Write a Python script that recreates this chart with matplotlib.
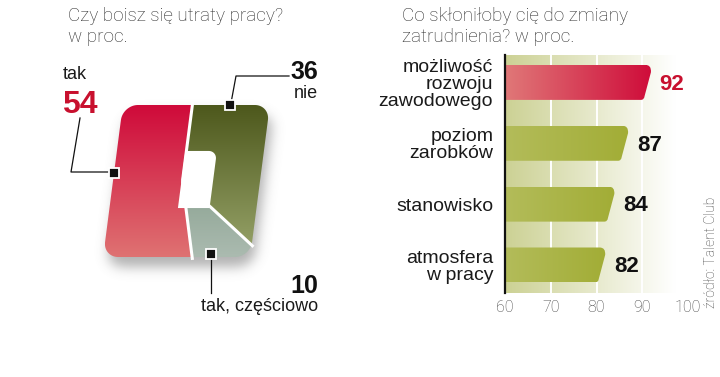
import numpy as np
import matplotlib
matplotlib.use("Agg")
import matplotlib.pyplot as plt
from matplotlib.patches import Polygon, PathPatch
from matplotlib.path import Path
from matplotlib.colors import to_rgb

# ---------------- data ----------------
pie_labels = ["tak", "tak, częściowo", "nie"]
pie_values = [54, 10, 36]
bar_categories = ["możliwość\nrozwoju\nzawodowego", "poziom\nzarobków", "stanowisko", "atmosfera\nw pracy"]
bar_values = [92, 87, 84, 82]
x_ticks = [60, 70, 80, 90, 100]
title_left = "Czy boisz się utraty pracy?\nw proc."
title_right = "Co skłoniłoby cię do zmiany\nzatrudnienia? w proc."
source = "źródło: Talent Club"

W, H = 720, 377
fig = plt.figure(figsize=(W / 100, H / 100), dpi=100)

LIGHT = dict(family=["Roboto", "DejaVu Sans"], weight="light")
REG = dict(family=["Liberation Sans", "DejaVu Sans"])
NUMB = dict(family=["Liberation Sans", "DejaVu Sans"], weight="bold")

def fx(x):
    return x / W

def fy(y):
    return 1 - y / H

# ---------------- titles / source ----------------
fig.text(fx(68), fy(42), title_left, ha="left", va="baseline", fontsize=13.6,
         color="#2a2a2a", linespacing=1.2, **LIGHT)
fig.text(fx(402), fy(42), title_right, ha="left", va="baseline", fontsize=13.6,
         color="#2a2a2a", linespacing=1.2, **LIGHT)
fig.text(fx(711), fy(252), source, rotation=90, ha="center", va="center",
         fontsize=10, color="#444444", **LIGHT)

# ---------------- left: square "pie" ----------------
ax0 = fig.add_axes([0, 0, 0.5, 1])
ax0.set_xlim(0, 360)
ax0.set_ylim(H, 0)
ax0.axis("off")

CX, CY = 186.5, 181.0      # shape centre (px)
A, B, RC = 73.5, 76.0, 15.0  # half width, half height, corner radius
S = 0.13                   # skew
U0 = -4.0                  # pie centre offset

def inside(u, v):
    dx = np.maximum(np.abs(u) - (A - RC), 0)
    dy = np.maximum(np.abs(v) - (B - RC), 0)
    return (np.abs(u) <= A) & (np.abs(v) <= B) & (dx ** 2 + dy ** 2 <= RC ** 2)

def to_xy(u, v):
    return CX + u + S * v, CY - v

def boundary_r(theta):
    lo = np.zeros_like(theta)
    hi = np.full_like(theta, 300.0)
    for _ in range(40):
        mid = (lo + hi) / 2
        ok = inside(U0 + mid * np.cos(theta), mid * np.sin(theta))
        lo = np.where(ok, mid, lo)
        hi = np.where(ok, hi, mid)
    return lo

# shadow
gx, gy = np.meshgrid(np.arange(60, 330), np.arange(60, 330))
sdx, sdy = 3.0, 9.0
vv = CY - (gy - sdy)
uu = (gx - sdx) - CX - S * vv
mask = inside(uu, vv).astype(float)
sig = 6.0
k = np.exp(-0.5 * (np.arange(-20, 21) / sig) ** 2)
k /= k.sum()
mask = np.apply_along_axis(lambda r: np.convolve(r, k, mode="same"), 0, mask)
mask = np.apply_along_axis(lambda r: np.convolve(r, k, mode="same"), 1, mask)
shadow = np.zeros(mask.shape + (4,))
shadow[..., :3] = 0.5
shadow[..., 3] = mask * 0.6
ax0.imshow(shadow, extent=(60, 330, 330, 60), origin="upper", zorder=1, interpolation="bilinear")

slice_colors = [("#cf0a3a", "#df7272"), ("#8ba291", "#abbbb0"), ("#4d581c", "#939f65")]
total = float(sum(pie_values))
bounds = 90 + 360 * np.concatenate([[0], np.cumsum(pie_values)]) / total

for i, val in enumerate(pie_values):
    th = np.radians(np.linspace(bounds[i], bounds[i + 1], 300))
    r = boundary_r(th)
    u = np.concatenate([[U0], U0 + r * np.cos(th)])
    v = np.concatenate([[0], r * np.sin(th)])
    x, y = to_xy(u, v)
    patch = Polygon(np.column_stack([x, y]), closed=True, facecolor="none",
                    edgecolor="none", transform=ax0.transData)
    ax0.add_patch(patch)
    c1, c2 = np.array(to_rgb(slice_colors[i][0])), np.array(to_rgb(slice_colors[i][1]))
    y0, y1 = y.min(), y.max()
    t = np.linspace(0, 1, 200)[:, None, None]
    grad = c1 * (1 - t) + c2 * t
    im = ax0.imshow(grad, extent=(x.min(), x.max(), y1, y0), origin="upper",
                    aspect="auto", zorder=2, interpolation="bilinear")
    im.set_clip_path(patch)

# separators
for b in bounds[:-1]:
    th = np.radians(np.array([b]))
    r = boundary_r(th)[0] + 3
    x, y = to_xy(np.array([U0, U0 + r * np.cos(th[0])]), np.array([0, r * np.sin(th[0])]))
    ax0.plot(x, y, color="white", lw=2.2, zorder=3, solid_capstyle="butt")

# hole
hr = 7.0
ang = np.linspace(0, np.pi / 2, 12)
hu = [U0, 25.5] + list(25.5 - hr + hr * np.cos(ang)) + [U0]
hv = [-26, -26] + list(29 - hr + hr * np.sin(ang)) + [29]
hx, hy = to_xy(np.array(hu), np.array(hv))
ax0.add_patch(Polygon(np.column_stack([hx, hy]), closed=True, facecolor="white",
                      edgecolor="white", lw=1.5, zorder=4))

# leaders + markers
lc = "#111111"
ax0.plot([80, 71, 113], [118, 172, 172], color=lc, lw=0.9, zorder=5)
ax0.plot([289, 236, 231], [76, 76, 103], color=lc, lw=0.9, zorder=5)
ax0.plot([211, 211], [254, 293], color=lc, lw=0.9, zorder=5)
mx, my = to_xy(np.array([-A, 34.0, 34.0]), np.array([8.0, B, -B + 3]))
ax0.plot(mx, my, "s", ms=6.5, mfc="#111111", mec="white", mew=1.3, zorder=6, ls="none")

# labels
ax0.text(63, 79, pie_labels[0], ha="left", va="baseline", fontsize=13, color="#1a1a1a", **REG)
ax0.text(62, 113, str(pie_values[0]), ha="left", va="baseline", fontsize=23, color="#c8102e", **NUMB)
ax0.text(318, 79, str(pie_values[2]), ha="right", va="baseline", fontsize=18, color="#111111", **NUMB)
ax0.text(318, 98, pie_labels[2], ha="right", va="baseline", fontsize=13, color="#1a1a1a", **REG)
ax0.text(318, 293, str(pie_values[1]), ha="right", va="baseline", fontsize=18, color="#111111", **NUMB)
ax0.text(318, 311, pie_labels[1], ha="right", va="baseline", fontsize=13, color="#1a1a1a", **REG)

# ---------------- right: bars ----------------
ax1 = fig.add_axes([fx(505), fy(293), 183 / W, 238 / H])
ax1.set_xlim(60, 100)
ax1.set_ylim(3.46, -0.45)

xs = np.linspace(60, 100, 400)
t = np.clip((xs - 60) / 37.0, 0, 1)[None, :, None]
left_bg = np.array([0.80, 0.82, 0.58])
bg = left_bg * (1 - t) + np.ones(3) * t
ax1.imshow(np.repeat(bg, 2, axis=0), extent=(60, 100, 3.46, -0.45), aspect="auto", zorder=0)

for g in [70, 80, 90]:
    ax1.axvline(g, color="white", lw=1.4, zorder=1)

bh = 0.575
for i, v in enumerate(bar_values):
    top, bot = i - bh / 2, i + bh / 2
    verts = [(60, top), (v - 1.3, top), (v, top), (v - 0.1, top + 0.12),
             (v - 1.5, bot - 0.06), (v - 1.6, bot), (v - 2.3, bot), (60, bot), (60, top)]
    codes = [Path.MOVETO, Path.LINETO, Path.CURVE3, Path.CURVE3, Path.LINETO,
             Path.CURVE3, Path.CURVE3, Path.LINETO, Path.CLOSEPOLY]
    patch = PathPatch(Path(verts, codes), facecolor="none", edgecolor="none", transform=ax1.transData)
    ax1.add_patch(patch)
    if i == 0:
        c1, c2 = np.array(to_rgb("#e07878")), np.array(to_rgb("#cf0c3a"))
        col = "#c8102e"
    else:
        c1, c2 = np.array(to_rgb("#b3bc5a")), np.array(to_rgb("#a2ad36"))
        col = "#111111"
    tt = np.linspace(0, 1, 200)[None, :, None]
    grad = c1 * (1 - tt) + c2 * tt
    im = ax1.imshow(grad, extent=(60, v, bot, top), aspect="auto", zorder=2, interpolation="bilinear")
    im.set_clip_path(patch)
    ax1.text(v + 1.8, i + 0.03, str(v), ha="left", va="center", fontsize=16, color=col, **NUMB)

ax1.set_xlim(60, 100)
ax1.set_ylim(3.46, -0.45)
ax1.set_yticks(range(len(bar_categories)))
ax1.set_yticklabels(bar_categories, fontsize=14, color="#1a1a1a", linespacing=1.0, **REG)
ax1.set_xticks(x_ticks)
ax1.set_xticklabels([str(v) for v in x_ticks], fontsize=11.5, color="#444444", **LIGHT)
ax1.tick_params(axis="both", length=0)
ax1.tick_params(axis="y", pad=8.5)
ax1.tick_params(axis="x", pad=5)
for sp in ["top", "right", "bottom"]:
    ax1.spines[sp].set_visible(False)
ax1.spines["left"].set_color("#111111")
ax1.spines["left"].set_linewidth(1.6)
ax1.spines["left"].set_zorder(5)

fig.savefig("out.png", dpi=100)
